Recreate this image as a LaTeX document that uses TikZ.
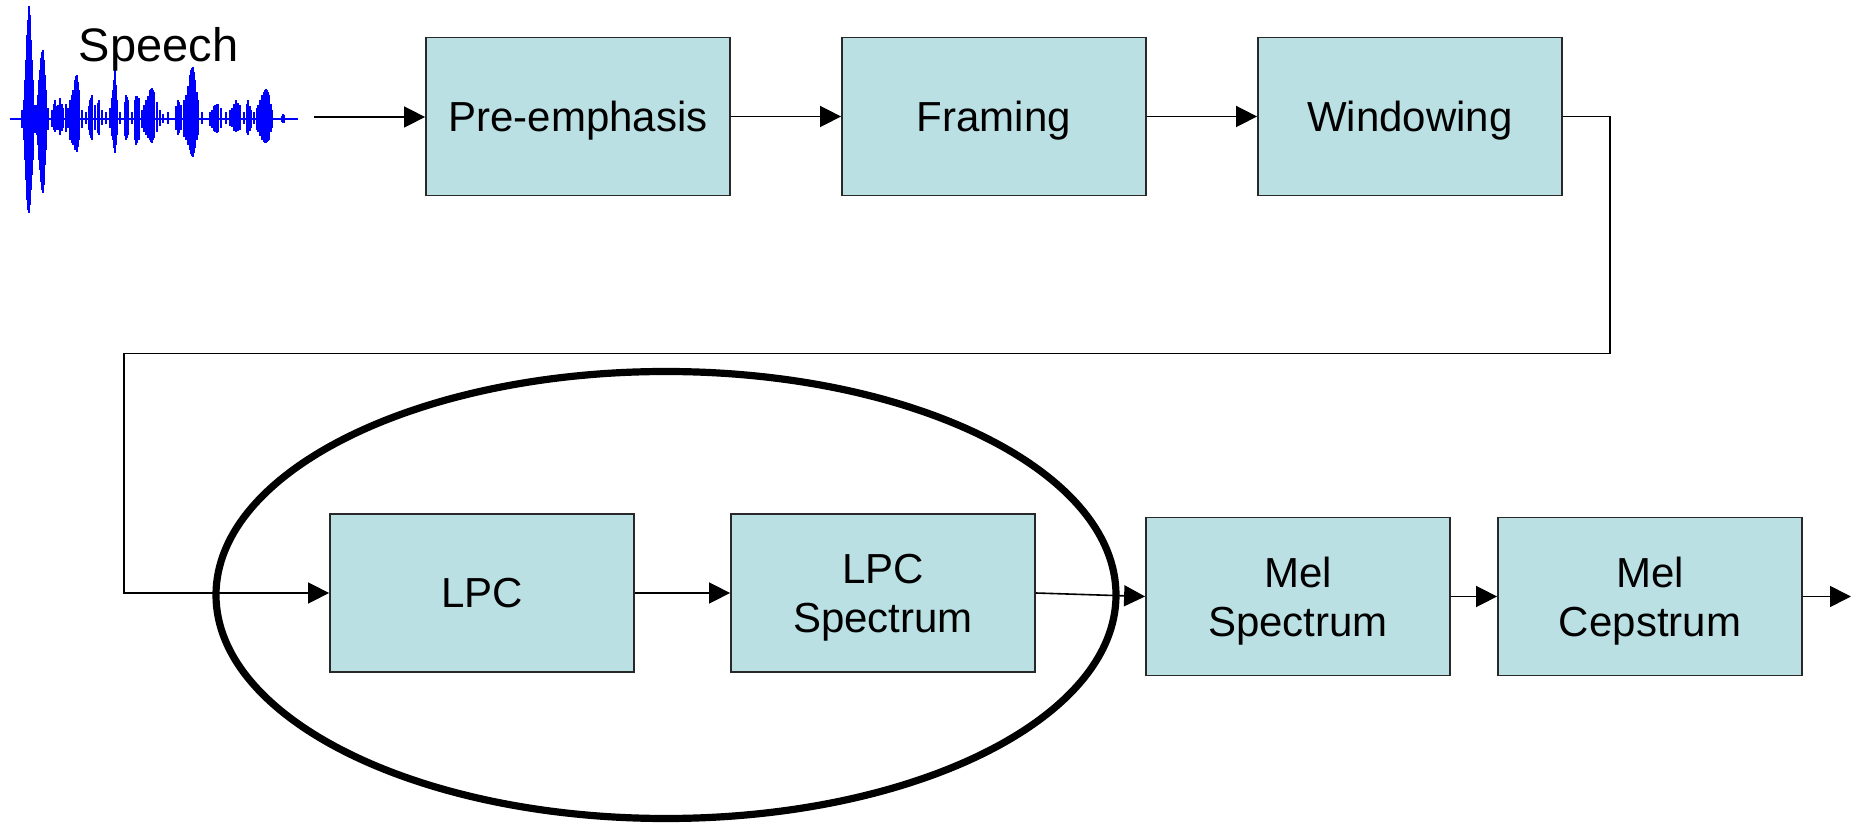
\documentclass[tikz,border=0pt]{standalone}
\usepackage{fontspec}
\setmainfont{Liberation Sans}
\usetikzlibrary{arrows.meta}
\definecolor{boxfill}{RGB}{186,224,227}
\definecolor{boxline}{RGB}{40,40,40}
\definecolor{wave}{RGB}{0,0,255}
\tikzset{
  stage/.style={draw=boxline, line width=0.9pt, fill=boxfill, inner sep=0pt,
    minimum width=152pt, minimum height=79pt, align=center, text depth=0pt,
    font=\fontsize{21}{24.5}\selectfont},
  flow/.style={line width=0.8pt, -{Triangle[length=10.5pt,width=10.5pt]}},
}
\begin{document}
\begin{tikzpicture}[x=0.5pt,y=-0.5pt]
\useasboundingbox (0,0) rectangle (1854,823);

% speech waveform
\draw[wave, line width=0.6pt] (10,119) -- (298,119);
\foreach \x/\t/\b in {
  22/110/128, 24/100/140, 25/80/160, 26/60/180, 27/35/200, 28/20/210, 29/6/213,
  30/15/205, 31/40/190, 32/60/175, 33/80/160, 35/105/133,
  37/105/135, 38/95/145, 39/80/160, 40/70/170, 41/58/182, 42/52/190, 43/50/193,
  44/60/185, 45/75/165, 46/90/150, 48/108/130,
  52/110/127, 54/104/130, 55/100/132, 57/106/130, 58/105/130, 60/98/135,
  62/104/131, 63/108/128, 66/104/132, 68/108/128, 70/100/140, 72/95/143,
  73/90/145, 75/80/150, 76/76/150, 77/75/152, 78/82/147, 79/90/140,
  82/110/128, 86/112/124, 89/106/130, 90/100/135, 91/98/138, 92/95/140,
  95/105/130, 98/103/133, 99/100/135, 102/110/125, 106/112/124, 110/108/128,
  112/98/136, 113/90/140, 114/80/148, 115/70/153, 116/85/145, 117/100/135,
  120/112/124, 125/102/136, 126/95/140, 127/97/138, 128/100/135, 132/112/124,
  135/100/140, 136/96/145, 137/96/143, 139/98/140, 142/110/128, 144/105/132,
  146/100/135, 148/96/138, 150/90/140, 151/89/142, 152/88/143, 153/90/140,
  154/92/138, 157/102/132, 160/110/126, 163/114/123, 168/112/124,
  176/106/130, 178/100/135, 179/102/133, 181/105/130, 184/100/137, 186/95/140,
  188/86/145, 190/75/150, 191/70/154, 192/68/156, 193/67/157, 194/72/153,
  195/80/148, 197/92/140, 198/100/135, 202/112/124,
  210/112/126, 212/110/128, 214/106/131, 215/105/132, 217/104/133, 218/104/132,
  221/108/128, 226/112/124, 230/110/126, 232/108/127, 234/104/131, 236/100/132,
  238/103/131, 240/105/130, 244/112/124, 247/104/133, 248/100/135, 250/106/131,
  251/110/128, 254/112/124, 257/108/130, 258/105/132, 260/100/136, 262/95/140,
  264/92/142, 265/90/143, 266/89/143, 267/90/142, 268/92/141, 269/95/140,
  271/104/132, 272/110/128, 282/116/122, 283/114/123, 284/115/123}
  \draw[wave, line width=0.85pt] (\x,\t) -- (\x,\b);

\node[anchor=base, font=\fontsize{23.5}{28}\selectfont] (speech) at (158.5,62) {Speech};
\coordinate (src) at (314,117);

% first row
\node[stage] (pre) at (578,116.5) {Pre-emphasis};
\node[stage] (frm) at (994,116.5) {Framing};
\node[stage] (win) at (1410,116.5) {Windowing};

% second row
\node[stage] (lpc) at (482,593) {LPC};
\node[stage] (lpcs) at (883,593) {LPC\\Spectrum};
\node[stage] (mels) at (1298,596.5) {Mel\\Spectrum};
\node[stage] (melc) at (1650,596.5) {Mel\\Cepstrum};

% return path from the first row to the second row
\coordinate (rt) at (1610,353.5);
\coordinate (lt) at (124,353.5);
\coordinate (out) at (1851,596.5);

\draw[flow] (src) -- (src -| pre.west);
\draw[flow] (pre) -- (frm);
\draw[flow] (frm) -- (win);
\draw[flow] (win.east) -| (rt) -- (lt) |- (lpc.west);
\draw[flow] (lpc) -- (lpcs);
\draw[flow] (lpcs.east) -- (mels.west);
\draw[flow] (mels) -- (melc);
\draw[flow] (melc.east) -- (out);

% grouping ellipse around the LPC stages
\draw[line width=3.6pt] (666,595) ellipse [x radius=450, y radius=223.5];
\end{tikzpicture}
\end{document}
